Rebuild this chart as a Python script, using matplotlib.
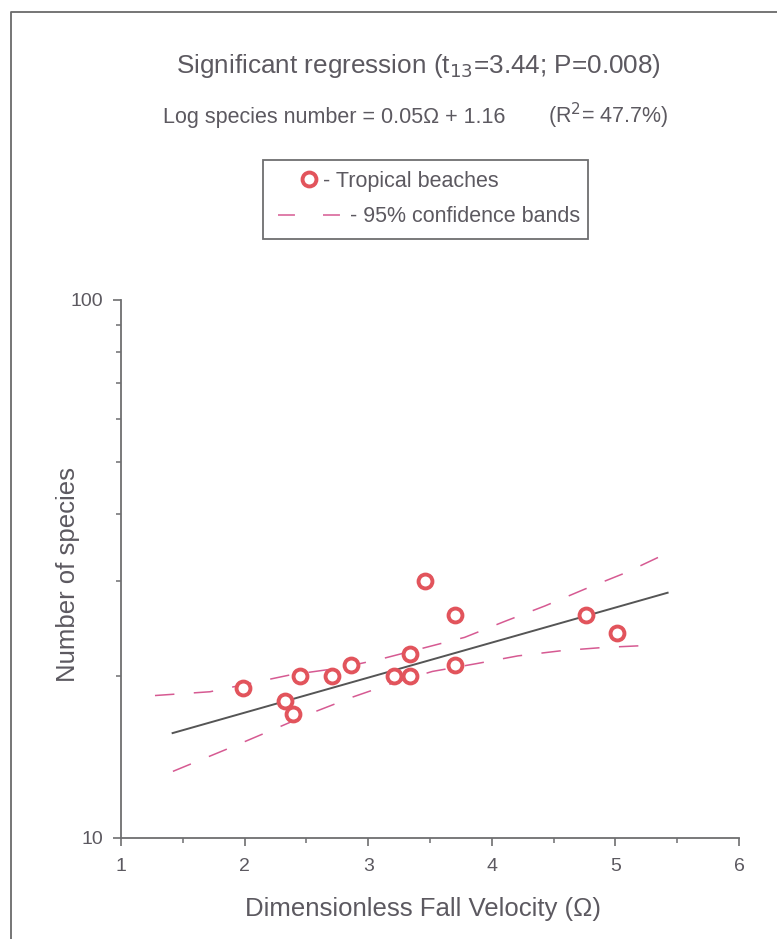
import matplotlib
matplotlib.use("Agg")
import matplotlib.pyplot as plt
from matplotlib.lines import Line2D
from matplotlib.patches import Rectangle
from matplotlib.ticker import FixedLocator, NullFormatter

# beaches: dimensionless fall velocity vs number of species
omega = [1.99, 2.33, 2.39, 2.45, 2.71, 2.86, 3.21, 3.34, 3.34, 3.46, 3.70, 3.70, 4.76, 5.01]
species = [19, 18, 17, 20, 20, 21, 20, 20, 22, 30, 26, 21, 26, 24]

# fitted regression line (as drawn)
fit_x = [1.41, 5.43]
fit_y = [15.65, 28.6]

# 95% confidence bands (as drawn)
upper_x = [1.275, 1.72, 2.37, 2.77, 3.10, 3.78, 4.11, 4.43, 4.75, 5.08, 5.39]
upper_y = [18.4, 18.7, 20.1, 20.7, 21.5, 23.6, 25.3, 27.0, 29.0, 31.1, 33.6]
lower_x = [1.42, 1.91, 2.23, 2.55, 2.88, 3.20, 3.52, 3.88, 4.21, 4.57, 4.90, 5.26]
lower_y = [13.3, 14.8, 15.9, 17.1, 18.3, 19.4, 20.4, 21.1, 21.8, 22.3, 22.6, 22.8]

x_ticks = [1, 2, 3, 4, 5, 6]
y_ticks = [10, 100]

plt.rcParams['font.family'] = ['Liberation Sans', 'DejaVu Sans']
plt.rcParams['lines.scale_dashes'] = False

TXT = '#5c5960'
AX = '#6e6e70'
RED = '#e2545c'
PINK = '#d65a92'

W, H = 777, 939
fig = plt.figure(figsize=(W / 100, H / 100), dpi=100)
fig.patch.set_facecolor('white')

ax = fig.add_axes([121 / W, 1 - 838 / H, (739 - 121) / W, (838 - 300) / H])
ax.set_yscale('log')
ax.set_xlim(1, 6)
ax.set_ylim(10, 100)

ax.plot(fit_x, fit_y, color='#555555', lw=1.4, solid_capstyle='butt')
ax.plot(upper_x, upper_y, color=PINK, lw=1.1, dashes=(14, 14))
ax.plot(lower_x, lower_y, color=PINK, lw=1.1, dashes=(14, 14))
ax.plot(omega, species, linestyle='none', marker='o', ms=10, mfc='white',
        mec=RED, mew=2.8, zorder=5)

for s in ['top', 'right']:
    ax.spines[s].set_visible(False)
for s in ['left', 'bottom']:
    ax.spines[s].set_color(AX)
    ax.spines[s].set_linewidth(1.3)

ax.xaxis.set_major_locator(FixedLocator(x_ticks))
ax.xaxis.set_minor_locator(FixedLocator([1.5, 2.5, 3.5, 4.5, 5.5]))
ax.yaxis.set_major_locator(FixedLocator(y_ticks))
ax.yaxis.set_minor_locator(FixedLocator([20, 30, 40, 50, 60, 70, 80, 90]))
ax.yaxis.set_minor_formatter(NullFormatter())
ax.set_xticklabels([str(v) for v in x_ticks])
ax.set_yticklabels([str(v) for v in y_ticks])
ax.tick_params(which='major', length=6, width=1.2, color=AX, labelsize=14,
               labelcolor=TXT)
ax.tick_params(which='minor', length=3.5, width=1.1, color=AX)
ax.tick_params(axis='x', which='major', pad=8.5)
ax.tick_params(axis='y', which='major', pad=7)

ax.set_xlabel('Dimensionless Fall Velocity (\u03a9)', fontsize=18.5, color=TXT)
ax.set_ylabel('Number of species', fontsize=18.5, color=TXT)
ax.xaxis.set_label_coords(0.488, -0.11)
ax.yaxis.set_label_coords(-0.067, 0.49)

# heading texts
fig.text(418.5 / W, 1 - 73 / H, 'Significant regression (t$_{13}$=3.44; P=0.008)',
         ha='center', va='baseline', fontsize=18.8, color=TXT)
fig.text(163 / W, 1 - 123 / H, 'Log species number = 0.05\u03a9 + 1.16',
         ha='left', va='baseline', fontsize=15.5, color=TXT)
fig.text(548 / W, 1 - 123 / H, '(R$^{2}$= 47.7%)',
         ha='left', va='baseline', fontsize=15.5, color=TXT)

# legend box
fig.add_artist(Rectangle((263 / W, 1 - 239 / H), (588 - 263) / W, (239 - 160) / H,
                         transform=fig.transFigure, fill=False, edgecolor=AX, lw=1.3))
fs = 15.5
fpx = fs * 100 / 72
h1 = Line2D([], [], linestyle='none', marker='o', ms=10, mfc='white', mec=RED, mew=2.8)
h2 = Line2D([], [], color=PINK, lw=1.1, dashes=(12.2, 20.2))
leg1 = ax.legend([h1], ['- Tropical beaches'], loc='center left',
                 bbox_to_anchor=(302 / W, 1 - 181 / H), bbox_transform=fig.transFigure,
                 frameon=False, fontsize=fs, handlelength=14 / fpx,
                 handletextpad=7 / fpx, borderpad=0, borderaxespad=0, numpoints=1,
                 labelcolor=TXT)
ax.add_artist(leg1)
ax.legend([h2], ['- 95% confidence bands'], loc='center left',
          bbox_to_anchor=(278 / W, 1 - 217 / H), bbox_transform=fig.transFigure,
          frameon=False, fontsize=fs, handlelength=63 / fpx,
          handletextpad=9 / fpx, borderpad=0, borderaxespad=0, labelcolor=TXT)

# outer frame of the scanned page
fig.add_artist(Line2D([11 / W, 11 / W, 1], [0, 1 - 12 / H, 1 - 12 / H],
                      transform=fig.transFigure, color='#6a6a6a', lw=1.3))

fig.savefig('out.png', dpi=100)
